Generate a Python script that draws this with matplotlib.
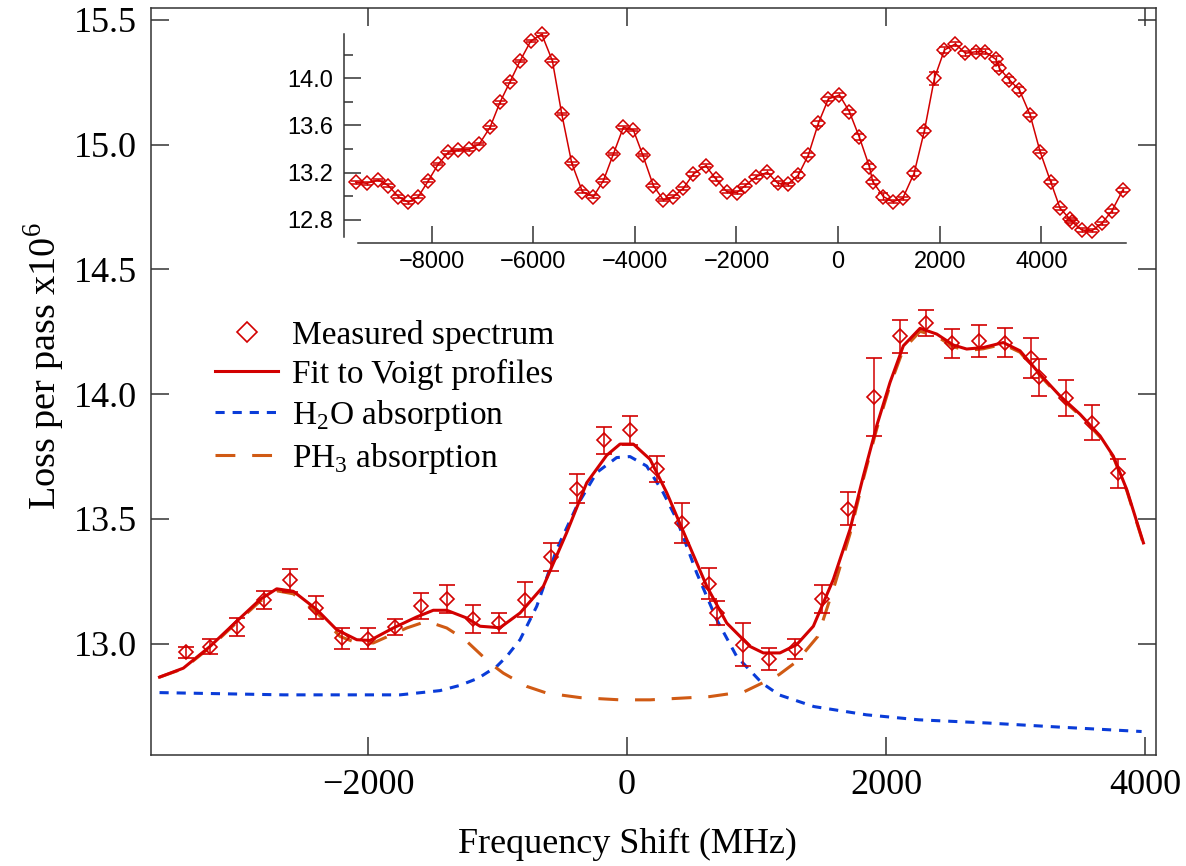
import matplotlib
matplotlib.use("Agg")
import matplotlib.pyplot as plt
from matplotlib.lines import Line2D
from matplotlib.ticker import FormatStrFormatter, MultipleLocator

# measured spectrum (main panel)
meas_x = [-3408, -3217, -3014, -2805, -2602, -2401, -2203, -1998, -1792, -1593,
          -1392, -1190, -988, -788, -587, -388, -175, 23, 229, 425,
          631, 692, 893, 1099, 1297, 1503, 1704, 1907, 2108, 2309,
          2513, 2716, 2919, 3117, 3184, 3388, 3588, 3789]
meas_y = [12.965, 12.987, 13.067, 13.175, 13.254, 13.145, 13.021, 13.020, 13.067, 13.151,
          13.180, 13.098, 13.083, 13.177, 13.347, 13.621, 13.815, 13.855, 13.699, 13.482,
          13.240, 13.123, 12.996, 12.938, 12.980, 13.180, 13.541, 13.989, 14.232, 14.284,
          14.205, 14.214, 14.207, 14.145, 14.067, 13.983, 13.886, 13.683]
meas_err = [0.022, 0.030, 0.038, 0.037, 0.045, 0.047, 0.041, 0.042, 0.032, 0.052,
            0.055, 0.057, 0.040, 0.069, 0.057, 0.059, 0.054, 0.057, 0.052, 0.080,
            0.062, 0.047, 0.087, 0.045, 0.040, 0.057, 0.066, 0.157, 0.065, 0.052,
            0.058, 0.063, 0.058, 0.079, 0.076, 0.072, 0.069, 0.059]

# fit to Voigt profiles
fit_x = [-3610, -3426, -3220, -3014, -2834, -2705, -2577, -2396, -2242, -2087,
         -1985, -1805, -1625, -1496, -1392, -1238, -1135, -981, -826, -646,
         -466, -311, -157, -54, 49, 178, 307, 461, 616, 770,
         950, 1053, 1181, 1310, 1439, 1593, 1722, 1825, 1928, 2031,
         2134, 2263, 2392, 2520, 2623, 2751, 2906, 3035, 3189, 3344,
         3498, 3653, 3755, 3859, 3988]
fit_y = [12.866, 12.902, 12.989, 13.090, 13.177, 13.220, 13.210, 13.137, 13.056, 13.016,
         13.013, 13.063, 13.107, 13.134, 13.134, 13.103, 13.070, 13.064, 13.123, 13.230,
         13.445, 13.645, 13.755, 13.800, 13.800, 13.739, 13.605, 13.418, 13.230, 13.083,
         12.989, 12.963, 12.963, 12.996, 13.070, 13.257, 13.458, 13.672, 13.873, 14.047,
         14.194, 14.264, 14.241, 14.197, 14.181, 14.187, 14.207, 14.174, 14.080, 13.993,
         13.920, 13.833, 13.752, 13.618, 13.404]

# H2O component
h2o_x = [-3610, -2654, -1753, -1444, -1290, -1148, -1006, -929, -826, -697,
         -543, -388, -234, -80, 23, 152, 280, 384, 538, 693,
         847, 1043, 1174, 1444, 1849, 2252, 2790, 3330, 3974]
h2o_y = [12.804, 12.795, 12.795, 12.812, 12.833, 12.862, 12.909, 12.949, 13.016, 13.150,
         13.378, 13.551, 13.686, 13.746, 13.750, 13.712, 13.605, 13.498, 13.284, 13.096,
         12.949, 12.842, 12.795, 12.748, 12.715, 12.695, 12.682, 12.666, 12.648]

# PH3 component
ph3_x = [-3610, -3426, -3220, -3014, -2834, -2705, -2577, -2396, -2216, -2087,
         -1959, -1800, -1701, -1547, -1392, -1251, -1058, -955, -775, -620,
         -363, -54, 178, 639, 907, 1043, 1174, 1311, 1473, 1606,
         1722, 1825, 1928, 2031, 2134, 2263, 2392, 2520, 2623, 2751,
         2906, 3035, 3189, 3344, 3498, 3653, 3755, 3859, 3988]
ph3_y = [12.866, 12.900, 12.985, 13.085, 13.170, 13.212, 13.200, 13.125, 13.029, 13.003,
         13.003, 13.040, 13.063, 13.090, 13.063, 13.016, 12.922, 12.882, 12.829, 12.802,
         12.784, 12.775, 12.775, 12.788, 12.808, 12.842, 12.876, 12.929, 13.029, 13.240,
         13.440, 13.660, 13.860, 14.035, 14.180, 14.252, 14.232, 14.190, 14.175, 14.182,
         14.200, 14.168, 14.075, 13.988, 13.915, 13.828, 13.748, 13.614, 13.400]

# wide scan (inset)
wide_x = [-9494, -9278, -9049, -8852, -8655, -8458, -8262, -8065, -7868, -7671,
          -7474, -7258, -7061, -6850, -6654, -6457, -6260, -6049, -5833, -5624,
          -5439, -5242, -5033, -4817, -4620, -4423, -4226, -4030, -3845, -3636,
          -3439, -3242, -3045, -2848, -2605, -2402, -2191, -1994, -1831, -1614,
          -1392, -1187, -990, -781, -585, -388, -191, 26, 222, 419,
          616, 682, 892, 1076, 1273, 1496, 1699, 1896, 2093, 2309,
          2506, 2711, 2894, 3104, 3175, 3372, 3569, 3780, 3976, 4187,
          4370, 4567, 4600, 4797, 4994, 5191, 5388, 5604]
wide_y = [13.119, 13.110, 13.138, 13.090, 12.997, 12.949, 12.997, 13.132, 13.274, 13.373,
          13.392, 13.398, 13.443, 13.585, 13.797, 13.971, 14.147, 14.316, 14.373, 14.149,
          13.697, 13.280, 13.039, 12.997, 13.132, 13.358, 13.585, 13.562, 13.350, 13.090,
          12.969, 12.997, 13.068, 13.189, 13.259, 13.144, 13.039, 13.031, 13.090, 13.166,
          13.203, 13.110, 13.102, 13.181, 13.350, 13.619, 13.825, 13.858, 13.717, 13.500,
          13.251, 13.124, 12.997, 12.954, 12.983, 13.195, 13.556, 14.000, 14.240, 14.291,
          14.212, 14.225, 14.225, 14.161, 14.085, 13.986, 13.901, 13.689, 13.378, 13.119,
          12.898, 12.805, 12.785, 12.714, 12.708, 12.771, 12.875, 13.053]
wide_err = [0.012] * 33 + [
    0.013, 0.015, 0.016, 0.014, 0.014, 0.011, 0.017, 0.018, 0.019, 0.013,
    0.023, 0.019, 0.020, 0.018, 0.019, 0.017, 0.027, 0.021, 0.016, 0.029,
    0.015, 0.013, 0.019, 0.022, 0.054, 0.022, 0.017, 0.019, 0.021, 0.019,
    0.026, 0.025, 0.024, 0.023, 0.020] + [0.015] * 10

red = "#d20000"
blue = "#0a3cd8"
orange = "#d05a14"
serif = "Liberation Serif"
sans = "Liberation Sans"

plt.rcParams["font.family"] = serif
plt.rcParams["mathtext.fontset"] = "custom"
plt.rcParams["mathtext.rm"] = serif

fig = plt.figure(figsize=(11.86, 8.66), dpi=100)
ax = fig.add_axes([0.1273, 0.1282, 0.8474, 0.8626])

ax.plot(h2o_x, h2o_y, color=blue, lw=2.2, ls=(0, (3, 2.6)))
ax.plot(ph3_x, ph3_y, color=orange, lw=2.2, ls=(0, (6.5, 5.5)))
ax.plot(fit_x, fit_y, color=red, lw=2.2)
ax.errorbar(meas_x, meas_y, yerr=meas_err, fmt="D", ms=7.5, mfc="none", mec=red,
            mew=1.2, ecolor=red, elinewidth=1.1, capsize=5.5, capthick=1.1)

ax.set_xlim(-3676, 4085)
ax.set_ylim(12.554, 15.548)
ax.set_xticks([-2000, 0, 2000, 4000])
ax.set_yticks([13.0, 13.5, 14.0, 14.5, 15.0, 15.5])
ax.yaxis.set_major_formatter(FormatStrFormatter("%.1f"))
ax.tick_params(direction="in", length=13, width=1.1, labelsize=26, pad=10,
               top=True, right=True, color="#333333")
for s in ax.spines.values():
    s.set_linewidth(1.1)
    s.set_color("#333333")
ax.set_xlabel("Frequency Shift (MHz)", fontsize=26)
ax.xaxis.set_label_coords(0.4736, -0.098)
ax.set_ylabel(r"Loss per pass x10$^{\mathregular{6}}$", fontsize=27.5)
ax.yaxis.set_label_coords(-0.084, 0.52)

handles = [
    Line2D([], [], ls="none", marker="D", ms=10, mfc="none", mec=red, mew=1.2),
    Line2D([], [], color=red, lw=2.2),
    Line2D([], [], color=blue, lw=2.2, ls=(0, (3, 2.6))),
    Line2D([], [], color=orange, lw=2.2, ls=(0, (6.5, 5.5))),
]
labels = ["Measured spectrum", "Fit to Voigt profiles",
          r"H$_\mathregular{2}$O absorption", r"PH$_\mathregular{3}$ absorption"]
ax.legend(handles, labels, loc="upper left", bbox_to_anchor=(0.1813, 0.631),
          bbox_transform=fig.transFigure, frameon=False, fontsize=24,
          handlelength=1.9, handletextpad=0.4, labelspacing=0.24,
          borderpad=0, borderaxespad=0)

# inset
ins = fig.add_axes([0.2901, 0.7194, 0.6594, 0.2413], facecolor="none")
ins.errorbar(wide_x, wide_y, yerr=wide_err, fmt="-D", color=red, lw=1.1, ms=7.5,
             mfc="none", mec=red, mew=1.1, ecolor=red, elinewidth=1,
             capsize=3.5, capthick=1, clip_on=False)
ins.set_xlim(-9724, 5669)
ins.set_ylim(12.604, 14.375)
ins.spines["top"].set_visible(False)
ins.spines["right"].set_visible(False)
ins.spines["left"].set_bounds(12.655, 14.375)
ins.spines["bottom"].set_bounds(-9449, 5669)
for s in ("left", "bottom"):
    ins.spines[s].set_linewidth(1.1)
    ins.spines[s].set_color("#333333")
ins.set_xticks([-8000, -6000, -4000, -2000, 0, 2000, 4000])
ins.set_yticks([12.8, 13.2, 13.6, 14.0])
ins.yaxis.set_minor_locator(MultipleLocator(0.2))
ins.yaxis.set_major_formatter(FormatStrFormatter("%.1f"))
ins.tick_params(which="major", direction="in", length=12, width=1.1, labelsize=17,
                pad=6, color="#333333")
ins.tick_params(which="minor", direction="in", length=6.5, width=1.1, color="#333333")
ins.tick_params(axis="y", pad=8)
for t in ins.get_xticklabels() + ins.get_yticklabels():
    t.set_family(sans)

fig.savefig("out.png", dpi=100)
